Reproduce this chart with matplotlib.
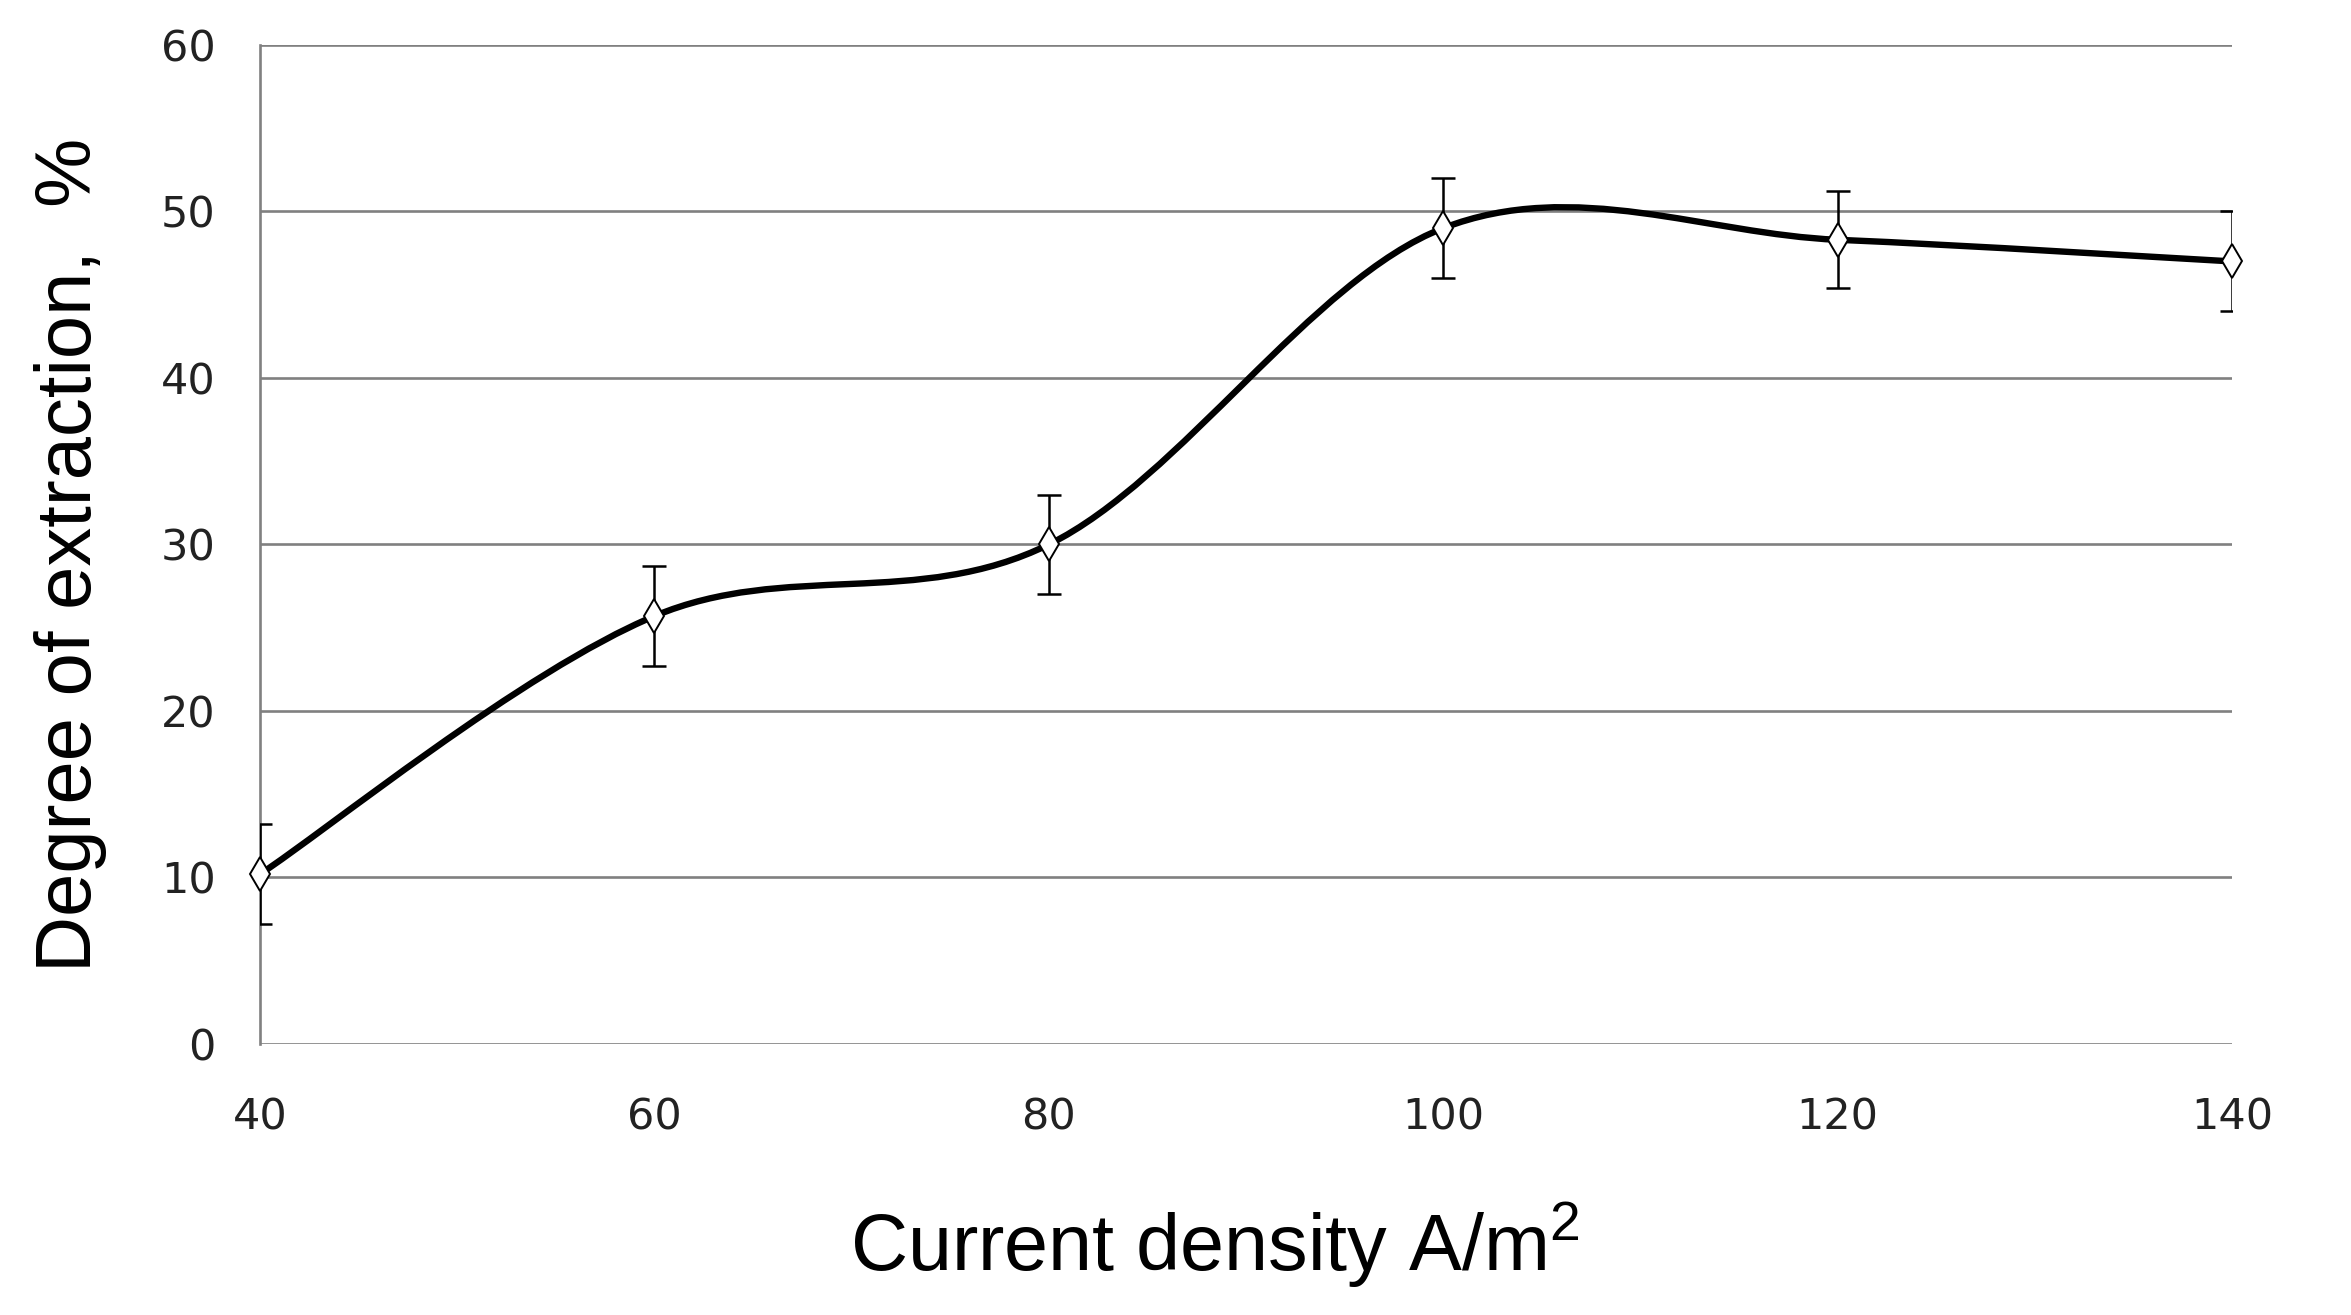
import matplotlib
matplotlib.use("Agg")
import matplotlib.pyplot as plt
from matplotlib.path import Path
from matplotlib.patches import PathPatch

# data
current_density = [40, 60, 80, 100, 120, 140]
extraction = [10.2, 25.7, 30.0, 49.0, 48.3, 47.0]
err = [3.0, 3.0, 3.0, 3.0, 2.9, 3.0]
y_ticks = [0, 10, 20, 30, 40, 50, 60]

plt.rcParams['mathtext.fontset'] = 'custom'
plt.rcParams['mathtext.rm'] = 'Liberation Sans'

fig = plt.figure(figsize=(23.51, 13.15), dpi=100)
ax = fig.add_axes([0.1106, 0.2061, 0.8388, 0.7597])

# smoothed line, like the spreadsheet "smoothed line" (catmull-rom as bezier)
pts = list(zip(current_density, extraction))
verts = [pts[0]]
codes = [Path.MOVETO]
for i in range(len(pts) - 1):
    p0 = pts[i - 1] if i > 0 else pts[i]
    p1 = pts[i]
    p2 = pts[i + 1]
    p3 = pts[i + 2] if i + 2 < len(pts) else pts[i + 1]
    c1 = (p1[0] + (p2[0] - p0[0]) / 6, p1[1] + (p2[1] - p0[1]) / 6)
    c2 = (p2[0] - (p3[0] - p1[0]) / 6, p2[1] - (p3[1] - p1[1]) / 6)
    verts += [c1, c2, p2]
    codes += [Path.CURVE4] * 3
ax.add_patch(PathPatch(Path(verts, codes), facecolor='none', edgecolor='black',
                       lw=4.6, zorder=3))

eb = ax.errorbar(current_density, extraction, yerr=err, fmt='none', ecolor='black',
                 elinewidth=1.8, capsize=8.5, capthick=1.8, zorder=4)
# caps sitting on the axes edges are cut in half in the original
for cap in eb[1]:
    cap.set_clip_path(ax.patch)
ax.plot(current_density, extraction, linestyle='none', marker='d', markersize=17,
        markerfacecolor='white', markeredgecolor='black', markeredgewidth=1.4,
        zorder=5, clip_on=False)

ax.set_xlim(40, 140)
ax.set_ylim(0, 60)
ax.set_xticks(current_density)
ax.set_yticks(y_ticks)
ax.grid(axis='y', color='#808080', lw=1.9)
ax.set_axisbelow(True)
for s in ['top', 'right', 'bottom']:
    ax.spines[s].set_visible(False)
ax.spines['left'].set_color('#808080')
ax.spines['left'].set_linewidth(1.9)
ax.tick_params(axis='both', length=0, labelsize=31, colors='#222222')
ax.tick_params(axis='x', pad=38)
ax.tick_params(axis='y', pad=32)

ax.set_xlabel(r'Current density A/m$^{2}$', fontsize=57, family='Liberation Sans',
              va='center', ha='center')
ax.xaxis.set_label_coords(0.484, -0.201)
ax.set_ylabel('Degree of extraction,  %', fontsize=56, family='Liberation Sans',
              va='center', ha='center')
ax.yaxis.set_label_coords(-0.096, 0.49)

fig.savefig('out.png', dpi=100, facecolor='white')
